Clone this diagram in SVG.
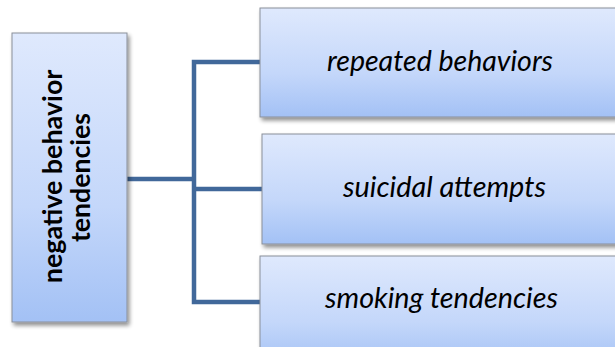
<svg xmlns="http://www.w3.org/2000/svg" width="615" height="347" viewBox="0 0 615 347">
  <defs>
    <linearGradient id="boxFill" x1="0" y1="0" x2="0" y2="1">
      <stop offset="0" stop-color="#dfe9fd"/>
      <stop offset="0.6" stop-color="#c4d7fa"/>
      <stop offset="1" stop-color="#a3c1f5"/>
    </linearGradient>
    <filter id="shadow" x="-10%" y="-10%" width="130%" height="130%">
      <feGaussianBlur in="SourceAlpha" stdDeviation="2"/>
      <feOffset dx="2" dy="3" result="b"/>
      <feComponentTransfer><feFuncA type="linear" slope="0.45"/></feComponentTransfer>
      <feMerge><feMergeNode/><feMergeNode in="SourceGraphic"/></feMerge>
    </filter>
  </defs>
  <style>
    .box { stroke: #8a8f99; stroke-width: 1; filter: url(#shadow); fill: url(#boxFill); }
    .wire { fill: none; stroke: #41689a; stroke-width: 4.5; stroke-linejoin: miter; }
    .root { font-family: Lato, "Open Sans", "Liberation Sans", sans-serif; font-weight: bold; font-size: 26.5px; fill: #000; text-anchor: middle; }
    .leaf { font-family: Lato, "Open Sans", "Liberation Sans", sans-serif; font-style: italic; font-size: 29px; fill: #000; text-anchor: middle; }
  </style>

  <rect width="615" height="347" fill="#ffffff"/>

  <g id="connectors">
    <path class="wire" d="M127 179 H194"/>
    <path class="wire" d="M261 62 H194 V302 H261"/>
    <path class="wire" d="M194 189 H262"/>
  </g>

  <g id="node-root">
    <rect class="box" x="12" y="33" width="115" height="289"/>
    <text class="root" transform="translate(69.5 175) rotate(-90)">
      <tspan x="1.5" y="-7.5" textLength="213" lengthAdjust="spacingAndGlyphs">negative behavior</tspan>
      <tspan x="-2.5" y="20.5" textLength="129" lengthAdjust="spacingAndGlyphs">tendencies</tspan>
    </text>
  </g>

  <g id="node-repeated">
    <rect class="box" x="260" y="8" width="362" height="109"/>
    <text class="leaf" x="440" y="71" textLength="226" lengthAdjust="spacingAndGlyphs">repeated behaviors</text>
  </g>

  <g id="node-suicidal">
    <rect class="box" x="262" y="134" width="360" height="110"/>
    <text class="leaf" x="444.5" y="197" textLength="203" lengthAdjust="spacingAndGlyphs">suicidal attempts</text>
  </g>

  <g id="node-smoking">
    <rect class="box" x="260" y="256" width="362" height="110"/>
    <text class="leaf" x="441.5" y="308" textLength="233" lengthAdjust="spacingAndGlyphs">smoking tendencies</text>
  </g>
</svg>
